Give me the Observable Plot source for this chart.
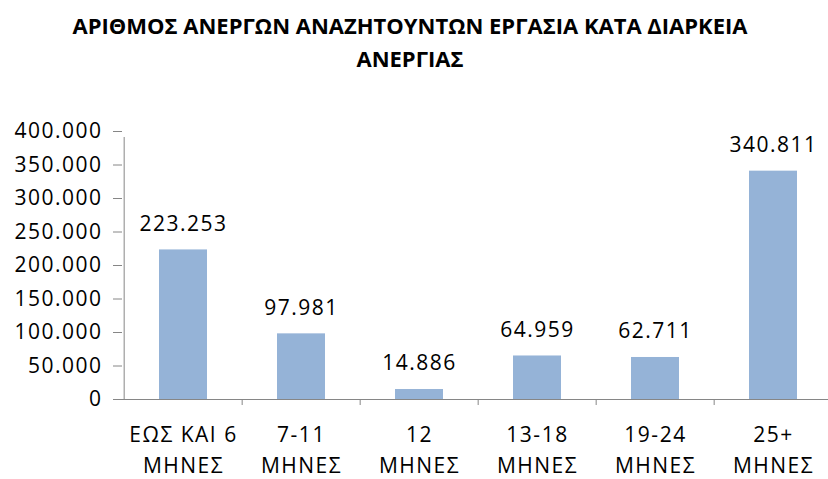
<!DOCTYPE html>
<html>
<head>
<meta charset="utf-8">
<script src="https://cdn.jsdelivr.net/npm/d3@7"></script>
<script src="https://cdn.jsdelivr.net/npm/@observablehq/plot@0.6"></script>
<style>
  html, body { margin: 0; padding: 0; background: #fff; }
  #wrap { width: 828px; height: 479px; position: relative; overflow: hidden; }
  #title { position: absolute; left: 0; top: 9px; width: 820px; text-align: center;
    font-family: "Open Sans", sans-serif; font-weight: 700; font-size: 22px; line-height: 33px; color: #000; }
  #chart { position: absolute; left: 0; top: 78px; }
</style>
</head>
<body>
<div id="wrap">
  <div id="title">ΑΡΙΘΜΟΣ ΑΝΕΡΓΩΝ ΑΝΑΖΗΤΟΥΝΤΩΝ ΕΡΓΑΣΙΑ ΚΑΤΑ ΔΙΑΡΚΕΙΑ<br>ΑΝΕΡΓΙΑΣ</div>
  <div id="chart"></div>
</div>
<script>
const categories = ["ΕΩΣ ΚΑΙ 6 ΜΗΝΕΣ", "7-11 ΜΗΝΕΣ", "12 ΜΗΝΕΣ", "13-18 ΜΗΝΕΣ", "19-24 ΜΗΝΕΣ", "25+ ΜΗΝΕΣ"];
const labelLine1 = ["ΕΩΣ ΚΑΙ 6", "7-11", "12", "13-18", "19-24", "25+"];
const labelLine2 = ["ΜΗΝΕΣ", "ΜΗΝΕΣ", "ΜΗΝΕΣ", "ΜΗΝΕΣ", "ΜΗΝΕΣ", "ΜΗΝΕΣ"];
const values = [223253, 97981, 14886, 64959, 62711, 340811];
const yTicks = [0, 50000, 100000, 150000, 200000, 250000, 300000, 350000, 400000];

const data = categories.map((c, i) => ({cat: c, value: values[i]}));
const locale = d3.formatLocale({decimal: ",", thousands: ".", grouping: [3], currency: ["", "€"]});
const fmt = locale.format(",d");

const x0 = 122, x1 = 834;
const step = (x1 - x0) / categories.length;
const font = "Open Sans, sans-serif";

const plot = Plot.plot({
  width: 828,
  height: 401,
  marginTop: 53,
  marginBottom: 80,
  marginLeft: 122,
  marginRight: 0,
  style: {fontFamily: font, fontSize: "21px", letterSpacing: "1.5px", color: "#000", background: "transparent", overflow: "visible"},
  x: {domain: categories, range: [x0, x1], paddingInner: 0.595, paddingOuter: 0.2975},
  y: {domain: [0, 400000]},
  marks: [
    Plot.barY(data, {x: "cat", y: "value", fill: "#95b3d7"}),
    Plot.ruleY([0], {stroke: "#868686", strokeWidth: 1}),
    Plot.ruleX([categories[0]], {dx: -step / 2, y1: 0, y2: 400000, insetBottom: -6, stroke: "#868686"}),
    Plot.ruleX(categories.slice(1), {x: d => d, dx: -step / 2, y1: 0, y2: 0, insetBottom: -6, stroke: "#868686"}),
    Plot.axisY({ticks: yTicks, tickFormat: fmt, tickSize: 9, tickPadding: 11, stroke: "#868686", fill: "#000", fontSize: 21, label: null}),
    Plot.axisX({tickSize: 0, tickPadding: 21, tickFormat: d => labelLine1[categories.indexOf(d)] + "\n" + labelLine2[categories.indexOf(d)], lineHeight: 1.45, fontSize: 21, fill: "#000", label: null}),
    Plot.text(data, {x: "cat", y: "value", text: d => fmt(d.value), dy: -26, fontSize: 21, fill: "#000"})
  ]
});
document.getElementById("chart").appendChild(plot);
</script>
</body>
</html>
